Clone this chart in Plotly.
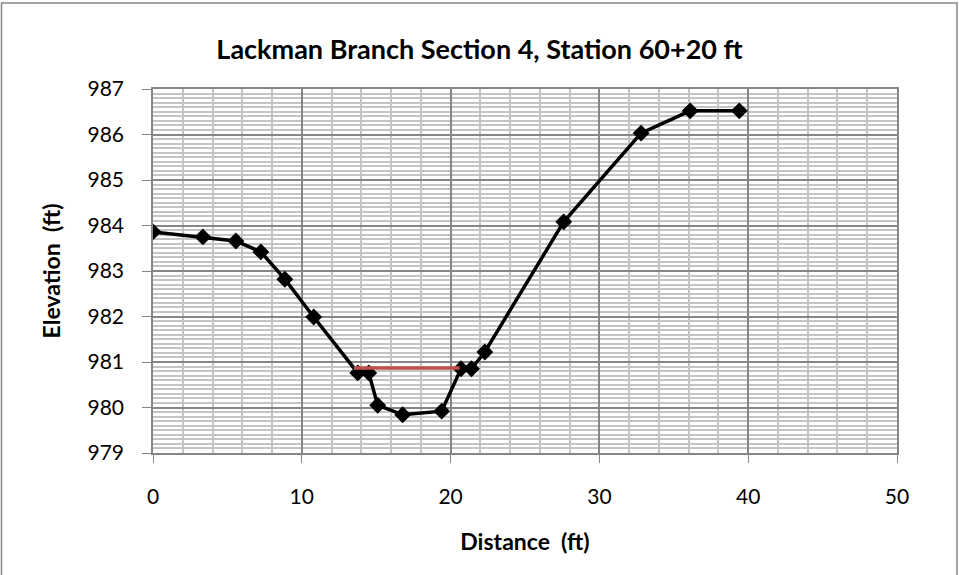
import plotly.graph_objects as go

distance = [0, 3.35, 5.57, 7.25, 8.86, 10.8, 13.76, 14.5, 15.1, 16.78, 19.4, 20.7, 21.4, 22.3, 27.6, 32.8, 36.1, 39.4]
elevation = [983.86, 983.75, 983.66, 983.42, 982.82, 981.99, 980.76, 980.76, 980.05, 979.84, 979.92, 980.85, 980.85, 981.22, 984.08, 986.03, 986.52, 986.52]

water_x = [13.5, 20.6]
water_y = [980.87, 980.87]

title = "Lackman Branch Section 4, Station 60+20 ft"
x_title = "Distance  (ft)"
y_title = "Elevation  (ft)"

W, H = 959, 575
L, R, T, B = 153, 62, 89, 122
pw, ph = W - L - R, H - T - B

font = "Lato, 'Open Sans', sans-serif"

fig = go.Figure()
fig.add_trace(go.Scatter(x=distance, y=elevation, mode="lines+markers",
                         line=dict(color="black", width=3.5),
                         marker=dict(symbol="diamond", size=13, color="black"),
                         showlegend=False))
fig.add_trace(go.Scatter(x=water_x, y=water_y, mode="lines",
                         line=dict(color="#C0504D", width=3.5),
                         showlegend=False))

fig.update_layout(
    width=W, height=H,
    margin=dict(l=L, r=R, t=T, b=B),
    paper_bgcolor="white", plot_bgcolor="white",
    font=dict(family=font, color="black"),
    title=dict(text="<b>" + title + "</b>", x=0.5, xanchor="center",
               y=1 - 50 / H, yanchor="middle", font=dict(size=27, family=font)),
)
fig.update_xaxes(range=[0, 50], dtick=10, tick0=0,
                 showgrid=True, gridcolor="#868686", gridwidth=1.5,
                 minor=dict(dtick=2, showgrid=True, gridcolor="#C4C4C4", gridwidth=1.5,
                            ticks=""),
                 ticks="outside", ticklen=8, tickcolor="#868686",
                 showline=True, linecolor="#868686", linewidth=1.5, mirror=True,
                 zeroline=False, tickfont=dict(size=21), ticklabelstandoff=16,
                 automargin=False,
                 title=dict(text="<b>" + x_title + "</b>", font=dict(size=23), standoff=27))
fig.update_yaxes(range=[979, 987], dtick=1, tick0=979,
                 showgrid=True, gridcolor="#868686", gridwidth=1.5,
                 minor=dict(dtick=0.1, showgrid=True, gridcolor="#C4C4C4", gridwidth=1.5,
                            ticks=""),
                 ticks="outside", ticklen=9, tickcolor="#868686",
                 showline=True, linecolor="#868686", linewidth=1.5, mirror=True,
                 zeroline=False, tickfont=dict(size=21), ticklabelstandoff=14,
                 automargin=False,
                 title=dict(text="<b>" + y_title + "</b>", font=dict(size=23), standoff=20))

# outer chart border
fig.add_shape(type="rect", xref="paper", yref="paper",
              x0=(1.5 - L) / pw, x1=(W - 2 - L) / pw,
              y0=-(H + 2 - T - ph) / ph, y1=1 + (T - 3) / ph,
              line=dict(color="#868686", width=1.5), fillcolor="rgba(0,0,0,0)", layer="below")

fig.write_html("out.html", config={"displayModeBar": False},
               post_script="document.body.style.margin='0px';")
